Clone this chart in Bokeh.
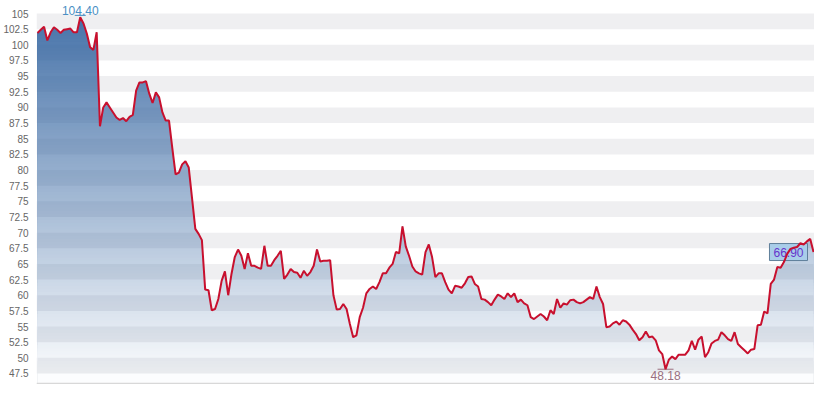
import numpy as np
from bokeh.plotting import figure
from bokeh.models import Range1d, FixedTicker, BoxAnnotation, Label, Span
from bokeh.core.properties import value
from bokeh.embed import file_html
from bokeh.resources import INLINE

# ---- data ----
prices = [
    101.9, 102.4, 102.9, 100.7, 102.0, 102.8, 102.4, 101.9, 102.4, 102.5,
    102.6, 102.0, 102.0, 104.4, 103.4, 101.8, 99.6, 99.2, 102.0, 87.0,
    90.0, 90.8, 90.0, 89.2, 88.4, 88.0, 88.3, 87.8, 88.5, 88.8,
    92.7, 94.0, 94.0, 94.2, 92.2, 90.7, 92.4, 91.6, 89.2, 87.9,
    87.9, 83.5, 79.3, 79.6, 80.9, 81.4, 80.4, 75.5, 70.6, 69.8,
    68.8, 60.9, 60.8, 57.6, 57.8, 59.4, 62.3, 63.8, 60.0, 63.4,
    66.1, 67.3, 66.3, 64.2, 66.7, 64.7, 64.7, 64.4, 64.2, 67.9,
    64.7, 64.7, 65.6, 66.3, 67.1, 62.6, 63.3, 64.2, 63.7, 63.6,
    62.8, 63.9, 63.1, 63.7, 64.7, 67.3, 65.4, 65.5, 65.5, 65.6,
    60.0, 57.7, 57.8, 58.6, 57.8, 55.4, 53.3, 53.6, 56.5, 58.0,
    60.3, 61.0, 61.4, 61.0, 62.1, 63.5, 63.5, 64.4, 65.0, 66.9,
    66.7, 71.0, 67.8, 66.3, 64.6, 63.8, 63.5, 63.3, 66.9, 68.1,
    66.1, 62.9, 63.5, 63.5, 62.1, 60.9, 60.3, 61.5, 61.4, 61.2,
    61.9, 62.9, 63.0, 61.8, 61.4, 59.4, 59.3, 58.9, 58.4, 59.3,
    60.1, 59.8, 59.4, 60.3, 59.7, 60.3, 58.9, 59.3, 58.7, 58.4,
    56.5, 56.2, 56.6, 57.0, 56.6, 56.0, 57.6, 57.0, 59.4, 58.0,
    58.7, 58.5, 59.2, 59.3, 58.9, 58.7, 58.9, 59.3, 59.7, 59.4,
    61.4, 59.7, 58.6, 54.9, 55.0, 55.5, 55.8, 55.3, 56.0, 55.8,
    55.3, 54.5, 53.8, 52.8, 53.3, 54.2, 53.3, 53.4, 52.8, 51.2,
    50.6, 48.18, 49.7, 50.2, 49.8, 50.5, 50.5, 50.5, 51.2, 52.7,
    51.3, 52.9, 53.4, 50.1, 50.9, 52.3, 52.7, 52.9, 54.1, 53.6,
    53.0, 52.7, 54.1, 52.2, 51.7, 51.2, 50.7, 51.3, 51.4, 55.2,
    55.3, 57.4, 57.1, 61.8, 62.5, 64.5, 64.4, 65.3, 66.6, 67.4,
    67.6, 67.7, 68.3, 68.1, 68.6, 69.0, 66.9,
]
tick_values = [47.5, 50, 52.5, 55, 57.5, 60, 62.5, 65, 67.5, 70, 72.5, 75,
               77.5, 80, 82.5, 85, 87.5, 90, 92.5, 95, 97.5, 100, 102.5, 105]
tick_labels = ["47.5", "50", "52.5", "55", "57.5", "60", "62.5", "65", "67.5",
               "70", "72.5", "75", "77.5", "80", "82.5", "85", "87.5", "90",
               "92.5", "95", "97.5", "100", "102.5", "105"]

y = np.array(prices)
x = np.arange(len(y), dtype=float)
n = len(y)
Y_MIN, Y_MAX = 45.74, 107.08
BAND_RGB = (239, 239, 241)
BG_RGB = (255, 255, 255)
FILL_RGB = (47, 97, 158)

p = figure(width=814, height=384, output_backend="svg", toolbar_location=None,
           x_range=Range1d(-0.3, n - 1 + 0.3), y_range=Range1d(Y_MIN, Y_MAX),
           min_border_left=0, min_border_right=0, min_border_top=0,
           min_border_bottom=0)
p.outline_line_color = None
p.xaxis.visible = False
p.grid.visible = False
p.background_fill_color = "white"

ax = p.yaxis[0]
ax.ticker = FixedTicker(ticks=tick_values)
ax.major_label_overrides = {v: s for v, s in zip(tick_values, tick_labels)}
ax.axis_line_color = None
ax.major_tick_line_color = None
ax.minor_tick_line_color = None
ax.major_tick_out = 0
ax.major_tick_in = 0
ax.minor_tick_out = 0
ax.major_label_standoff = 8
ax.major_label_text_font = "Liberation Sans"
ax.major_label_text_font_size = "10px"
ax.major_label_text_color = "#666666"

# alternating bands
band_lows = tick_values[0::2]
for lo in band_lows:
    p.add_layout(BoxAnnotation(bottom=lo, top=lo + 2.5,
                               fill_color="#%02x%02x%02x" % BAND_RGB,
                               fill_alpha=1.0, line_color=None, level="underlay"))


def below_level(xs, ys, b):
    """Exact outline of min(line, b), with the crossing points inserted."""
    ox, oy = [], []
    for i in range(len(xs) - 1):
        ox.append(xs[i]); oy.append(min(ys[i], b))
        d0, d1 = ys[i] - b, ys[i + 1] - b
        if d0 * d1 < 0:
            t = d0 / (d0 - d1)
            ox.append(xs[i] + t * (xs[i + 1] - xs[i])); oy.append(b)
    ox.append(xs[-1]); oy.append(min(ys[-1], b))
    return np.array(ox), np.array(oy)


def in_band(v):
    return any(lo <= v < lo + 2.5 for lo in band_lows)


# gradient area fill: nested opaque layers, painted from the top slice down
top_v = y.max()
amax = 0.88
edges = list(np.arange(47.5, top_v, 0.5))
edges = [Y_MIN] + [e for e in edges if e > Y_MIN] + [top_v]
slices = list(zip(edges[:-1], edges[1:]))
for a, b in reversed(slices):
    mid = 0.5 * (a + b)
    alpha = amax * (mid - Y_MIN) / (top_v - Y_MIN)
    bg = BAND_RGB if in_band(mid) else BG_RGB
    rgb = tuple(int(round(alpha * c + (1 - alpha) * g)) for c, g in zip(FILL_RGB, bg))
    xx, yy = below_level(x, y, b)
    p.varea(x=xx, y1=np.full(len(xx), Y_MIN), y2=yy,
            fill_color="#%02x%02x%02x" % rgb, fill_alpha=1.0)

# bottom axis line
p.add_layout(Span(location=Y_MIN + 0.12, dimension="width",
                  line_color="#d8d8d8", line_width=2))

# main line
line = p.line(x, y, line_color="#c8102e", line_width=2)
line.level = "overlay"

# max / min markers and labels
imax = int(np.argmax(y)); imin = int(np.argmin(y))
p.dash(x=[imax], y=[y[imax] + 0.3], size=11, line_color="#4a8fc4", line_width=1)
p.text(x=[imax], y=[y[imax]], text=[f"{y[imax]:.2f}"], text_align="center",
       text_baseline="bottom", y_offset=-2, text_font=value("Liberation Sans"),
       text_font_size="12px", text_color="#4a8fc4")
p.dash(x=[imin], y=[y[imin]], size=16, line_color="#9a7080", line_width=1)
p.text(x=[imin], y=[y[imin]], text=[f"{y[imin]:.2f}"], text_align="center",
       text_baseline="top", y_offset=2, text_font=value("Liberation Sans"),
       text_font_size="12px", text_color="#9a7080")

# last value label
last = Label(x=n - 1, y=y[-1], text=f"{y[-1]:.2f}", x_offset=-6,
             text_align="right", text_baseline="middle",
             text_font="Liberation Sans", text_font_size="12px",
             text_color="#6633cc", background_fill_color="#a9cde9",
             background_fill_alpha=1.0, border_line_color="#5f7f9a",
             border_line_width=1, padding=4)
p.add_layout(last)

open("out.html", "w").write(file_html(p, INLINE))
